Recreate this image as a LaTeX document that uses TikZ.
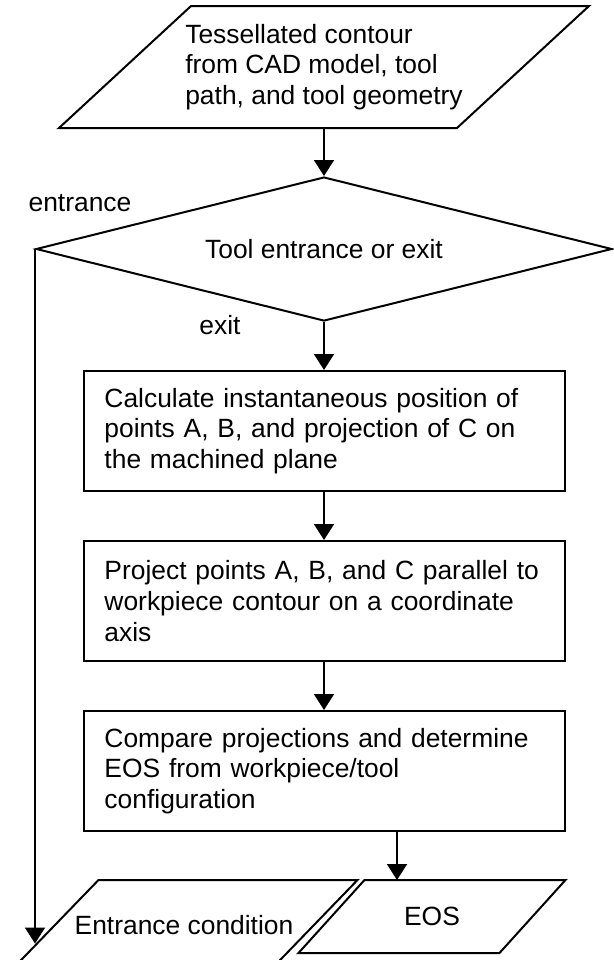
\documentclass[tikz,border=0pt]{standalone}
\usepackage{fontspec}
\setmainfont{Liberation Sans}
\usetikzlibrary{positioning,shapes.geometric,arrows.meta}

\newcommand{\ioframe}[2]{\draw ([xshift=#2]#1.north west) -- ([xshift=#2]#1.north east) -- ([xshift=-#2]#1.south east) -- ([xshift=-#2]#1.south west) -- cycle;}

\begin{document}
\begin{tikzpicture}[
    font=\fontsize{13.2}{15.3}\selectfont,
    node distance=24pt,
    line width=1pt,
    box/.style={draw, text width=219.5pt, align=left, inner xsep=10.5pt, inner ysep=0pt, minimum height=60pt},
    io/.style={align=center, inner sep=0pt},
    decision/.style={draw, diamond, aspect=4, inner sep=0pt, minimum width=288pt, minimum height=72pt},
    lbl/.style={inner sep=0pt},
    arrow/.style={-{Triangle[width=10pt,length=8pt]}}
  ]
    \useasboundingbox (0,0) rectangle (307pt,-480pt);
    \node[io, align=left, minimum width=198pt, minimum height=60pt] (src) at (162pt,-33.5pt) {Tessellated contour\\from CAD model, tool\\path, and tool geometry};
    \node[decision, below=of src] (dec) {Tool entrance or exit};
    \node[box, below=of dec] (calc) {Calculate instantaneous position of\\points A, B, and projection of C on\\the machined plane};
    \node[box, below=of calc] (proj) {Project points A, B, and C parallel to\\workpiece contour on a coordinate\\axis};
    \node[box, below=of proj] (cmp) {Compare projections and determine\\EOS from workpiece/tool\\configuration};
    \node[io, below=of cmp, xshift=-70pt, minimum width=128.5pt, minimum height=44.5pt] (ent) {Entrance condition};
    \node[io, below=of cmp, xshift=54pt, minimum width=99.5pt, minimum height=35.5pt] (eos) {EOS};
    \ioframe{src}{33pt}
    \ioframe{ent}{22pt}
    \ioframe{eos}{16.5pt}
    \node[lbl] (entlbl) at ([xshift=22.5pt,yshift=23pt]dec.west) {entrance};
    \node[lbl] (exitlbl) at ([xshift=-52pt,yshift=-1.5pt]dec.south) {exit};
    \draw[arrow] (src.south) -- (dec.north);
    \draw[arrow] (dec.south) -- (calc.north);
    \draw[arrow] (calc) -- (proj);
    \draw[arrow] (proj) -- (cmp);
    \draw[arrow] ([xshift=36.5pt]cmp.south) -- ([xshift=36.5pt]cmp.south |- eos.north);
    \draw[arrow] (dec.west) -- ([yshift=-9pt]dec.west |- ent.center);
  \end{tikzpicture}
\end{document}
